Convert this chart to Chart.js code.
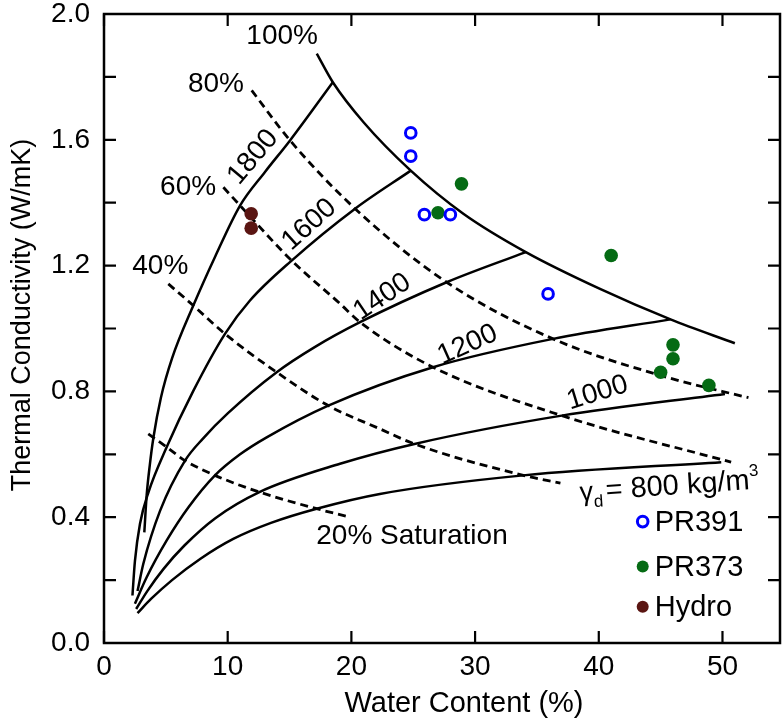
<!DOCTYPE html>
<html>
<head>
<meta charset="utf-8">
<script src="https://cdn.jsdelivr.net/npm/chart.js@4.4.1/dist/chart.umd.min.js"></script>
<style>
  html, body { margin: 0; padding: 0; background: #fff; }
</style>
</head>
<body>
<canvas id="kChart" width="783" height="725"></canvas>
<script>
// --- data: [water content %, k W/mK] ---

// measured samples
const pr391 = [[24.8, 1.622], [24.8, 1.548], [25.9, 1.362], [28.0, 1.362], [35.9, 1.110]];
const pr373 = [[28.9, 1.460], [27.0, 1.368], [41.0, 1.232], [46.0, 0.948], [46.0, 0.904], [45.0, 0.861], [48.9, 0.819]];
const hydro = [[11.9, 1.365], [11.9, 1.319]];

// dry density curves (kg/m3)
const rho1800 = [[3.26, 0.352], [3.45, 0.470], [3.7, 0.565], [3.99, 0.652], [4.6, 0.780], [5.5, 0.905], [7.22, 1.073], [9.0, 1.230], [11.0, 1.391], [13.0, 1.497], [15.04, 1.598], [18.5, 1.783]];
const rho1600 = [[2.30, 0.151], [2.5, 0.260], [2.91, 0.379], [3.6, 0.480], [5.07, 0.623], [7.2, 0.800], [9.78, 0.983], [11.8, 1.089], [15.17, 1.216], [20.3, 1.381], [24.8, 1.502]];
const rho1400 = [[2.71, 0.165], [3.18, 0.252], [4.53, 0.420], [6.55, 0.580], [8.0, 0.650], [10.0, 0.730], [13.96, 0.861], [17.0, 0.940], [20.7, 1.020], [27.7, 1.147], [34.1, 1.243]];
const rho1200 = [[2.50, 0.125], [3.45, 0.209], [5.07, 0.326], [6.8, 0.430], [8.97, 0.533], [11.0, 0.600], [13.15, 0.654], [18.13, 0.755], [26.6, 0.877], [36.3, 0.967], [45.8, 1.029]];
const rho1000 = [[2.60, 0.108], [3.5, 0.165], [4.8, 0.235], [6.5, 0.310], [9.0, 0.397], [12.56, 0.480], [19.08, 0.570], [25.1, 0.633], [37.0, 0.723], [50.2, 0.792]];
const rho800  = [[2.71, 0.095], [3.8, 0.140], [5.5, 0.200], [7.8, 0.268], [10.45, 0.331], [13.5, 0.382], [17.19, 0.427], [22.3, 0.474], [33.9, 0.533], [49.9, 0.575]];

// saturation curves
const sat100 = [[17.2, 1.874], [18.5, 1.783], [21.0, 1.655], [24.8, 1.502], [29.05, 1.365], [34.1, 1.243], [40.1, 1.126], [45.8, 1.029], [51.0, 0.953]];
const sat80  = [[11.94, 1.757], [15.04, 1.598], [20.3, 1.381], [27.7, 1.147], [36.3, 0.967], [45.5, 0.845], [52.1, 0.780]];
const sat60  = [[9.65, 1.449], [11.0, 1.391], [15.17, 1.216], [19.08, 1.079], [20.7, 1.020], [26.6, 0.877], [37.0, 0.723], [50.7, 0.575]];
const sat40  = [[5.2, 1.142], [7.22, 1.073], [9.78, 0.983], [13.96, 0.861], [18.13, 0.755], [22.3, 0.681], [25.1, 0.633], [33.9, 0.533], [36.9, 0.508]];
const sat20  = [[3.58, 0.665], [5.07, 0.623], [6.55, 0.580], [8.97, 0.533], [12.56, 0.480], [17.19, 0.427], [19.9, 0.400]];

// axis ticks and titles
const xTicks = [0, 10, 20, 30, 40, 50];
const yTickLabels = ['0.0', '0.4', '0.8', '1.2', '1.6', '2.0'];
const xTitle = 'Water Content (%)';
const yTitle = 'Thermal Conductivity (W/mK)';

// curve labels
const satLabels = ['100%', '80%', '60%', '40%', '20% Saturation'];
const densLabels = ['1800', '1600', '1400', '1200', '1000'];
const seriesNames = ['PR391', 'PR373', 'Hydro'];

// --- style / placement ---
const FONT = "'Liberation Sans', Arial, sans-serif";
const TICK_LEN = 12;
const satLabelPos = [[14.4, 1.930, 0], [9.05, 1.778, 0], [6.8, 1.448, 0], [4.55, 1.198, 0], [24.9, 0.338, 0]];
const densLabelPos = [[12.05, 1.545, -50], [16.6, 1.330, -42], [22.5, 1.100, -34], [29.4, 0.948, -24], [39.9, 0.795, -17]];
const gammaPos = [45.7, 0.503, -4];
const legendPos = [[43.55, 0.386], [43.55, 0.243], [43.55, 0.115]];

const toXY = arr => arr.map(p => ({ x: p[0], y: p[1] }));

function curve(data, dashed) {
    return {
        data: toXY(data),
        showLine: true,
        borderColor: '#000',
        borderWidth: dashed ? 2.8 : 2.5,
        borderDash: dashed ? [8, 5] : [],
        pointRadius: 0,
        fill: false,
        cubicInterpolationMode: 'monotone'
    };
}

const pointSets = [
    { label: seriesNames[0], data: toXY(pr391), pointStyle: 'circle', pointRadius: 5.3, pointBorderWidth: 3,
      pointBorderColor: '#0000ff', pointBackgroundColor: '#ffffff', showLine: false },
    { label: seriesNames[1], data: toXY(pr373), pointStyle: 'circle', pointRadius: 6.8, pointBorderWidth: 0,
      pointBorderColor: '#056b14', pointBackgroundColor: '#056b14', showLine: false },
    { label: seriesNames[2], data: toXY(hydro), pointStyle: 'circle', pointRadius: 6.8, pointBorderWidth: 0,
      pointBorderColor: '#5a1512', pointBackgroundColor: '#5a1512', showLine: false }
];

const lineSets = [
    curve(rho1800), curve(rho1600), curve(rho1400), curve(rho1200), curve(rho1000), curve(rho800),
    curve(sat100), curve(sat80, true), curve(sat60, true), curve(sat40, true), curve(sat20, true)
];

// frame, inward ticks, titles, curve labels and legend
const decorations = {
    id: 'decorations',
    afterDatasetsDraw(chart) {
        const { ctx, chartArea: a, scales: { x, y } } = chart;
        ctx.save();
        ctx.strokeStyle = '#000';
        ctx.lineWidth = 2.5;
        ctx.strokeRect(a.left, a.top, a.right - a.left, a.bottom - a.top);

        ctx.lineWidth = 2.2;
        ctx.beginPath();
        x.ticks.forEach(t => {
            const px = x.getPixelForValue(t.value);
            ctx.moveTo(px, a.bottom); ctx.lineTo(px, a.bottom - TICK_LEN);
            ctx.moveTo(px, a.top); ctx.lineTo(px, a.top + TICK_LEN);
        });
        y.ticks.forEach(t => {
            const py = y.getPixelForValue(t.value);
            ctx.moveTo(a.left, py); ctx.lineTo(a.left + TICK_LEN, py);
            ctx.moveTo(a.right, py); ctx.lineTo(a.right - TICK_LEN, py);
        });
        ctx.stroke();

        ctx.fillStyle = '#000';
        ctx.textAlign = 'center';
        ctx.textBaseline = 'middle';

        // axis titles
        ctx.font = '29px ' + FONT;
        ctx.fillText(xTitle, 464, 704);
        ctx.save();
        ctx.translate(23, 315);
        ctx.rotate(-Math.PI / 2);
        ctx.font = '27px ' + FONT;
        ctx.fillText(yTitle, 0, 0);
        ctx.restore();

        ctx.font = '28px ' + FONT;
        const put = (txt, pos) => {
            ctx.save();
            ctx.translate(x.getPixelForValue(pos[0]), y.getPixelForValue(pos[1]));
            ctx.rotate(pos[2] * Math.PI / 180);
            ctx.fillText(txt, 0, 0);
            ctx.restore();
        };
        satLabels.forEach((t, i) => put(t, satLabelPos[i]));
        densLabels.forEach((t, i) => put(t, densLabelPos[i]));

        // γd = 800 kg/m3
        ctx.save();
        ctx.translate(x.getPixelForValue(gammaPos[0]), y.getPixelForValue(gammaPos[1]));
        ctx.rotate(gammaPos[2] * Math.PI / 180);
        ctx.textAlign = 'left';
        ctx.textBaseline = 'alphabetic';
        const parts = [['γ', '27px', 0], ['d', '17px', 7], ['= 800 kg/m', '29px', 0], ['3', '17px', -13]];
        let total = 0;
        parts.forEach(p => { ctx.font = p[1] + ' ' + FONT; total += ctx.measureText(p[0]).width; });
        total += 3;
        let cx = -total / 2;
        parts.forEach((p, i) => {
            ctx.font = p[1] + ' ' + FONT;
            ctx.fillText(p[0], cx, 10 + p[2]);
            cx += ctx.measureText(p[0]).width + (i === 1 ? 3 : 0);
        });
        ctx.restore();

        // legend
        ctx.textAlign = 'left';
        ctx.font = '29px ' + FONT;
        pointSets.forEach((ds, i) => {
            const px = x.getPixelForValue(legendPos[i][0]);
            const py = y.getPixelForValue(legendPos[i][1]);
            ctx.beginPath();
            ctx.arc(px, py, ds.pointRadius - (ds.pointBorderWidth ? 0 : 0.8), 0, Math.PI * 2);
            if (ds.pointBorderWidth) {
                ctx.lineWidth = ds.pointBorderWidth;
                ctx.strokeStyle = ds.pointBorderColor;
                ctx.fillStyle = '#fff';
                ctx.fill();
                ctx.stroke();
            } else {
                ctx.fillStyle = ds.pointBackgroundColor;
                ctx.fill();
            }
            ctx.fillStyle = '#000';
            ctx.fillText(ds.label, px + 12, py + 1);
        });
        ctx.restore();
    }
};

new Chart(document.getElementById('kChart'), {
    type: 'scatter',
    data: { datasets: [...pointSets, ...lineSets] },
    options: {
        responsive: false,
        animation: false,
        events: [],
        layout: { autoPadding: false, padding: { top: 14, right: 3, left: 0, bottom: 0 } },
        plugins: { legend: { display: false }, tooltip: { enabled: false } },
        scales: {
            x: {
                type: 'linear',
                min: 0,
                max: 54.65,
                afterFit: s => { s.height = 82; s.paddingLeft = 0; s.paddingRight = 0; },
                grid: { display: false, drawTicks: false },
                border: { display: false },
                ticks: {
                    stepSize: 10,
                    includeBounds: false,
                    padding: 7,
                    color: '#000',
                    font: { family: FONT, size: 28 },
                    callback: v => xTicks.includes(v) ? String(v) : ''
                },
                title: { display: false }
            },
            y: {
                type: 'linear',
                min: 0,
                max: 2.0,
                afterFit: s => { s.width = 104; s.paddingTop = 0; s.paddingBottom = 0; },
                grid: { display: false, drawTicks: false },
                border: { display: false },
                ticks: {
                    stepSize: 0.2,
                    padding: 14,
                    color: '#000',
                    font: { family: FONT, size: 28 },
                    callback: v => {
                        const s = v.toFixed(1);
                        return yTickLabels.includes(s) ? s : '';
                    }
                },
                title: { display: false }
            }
        }
    },
    plugins: [decorations]
});
</script>
</body>
</html>
